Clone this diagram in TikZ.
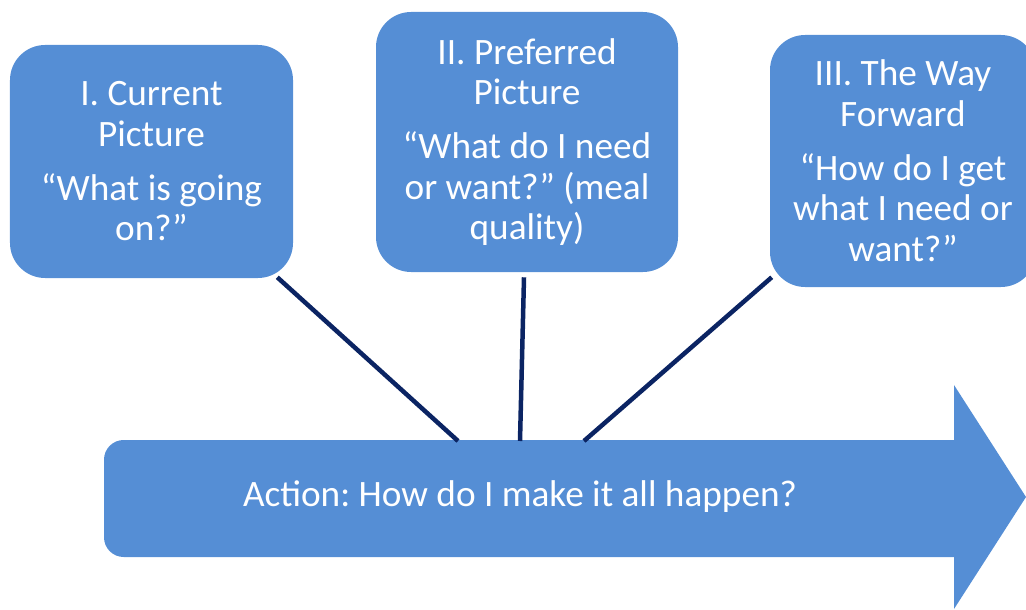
\documentclass[tikz,border=0pt]{standalone}
\usepackage{fontspec}
\setmainfont{Carlito}
\usepackage{xcolor}
\usetikzlibrary{calc}
\frenchspacing

\definecolor{boxblue}{RGB}{85,142,213}
\definecolor{navy}{RGB}{11,36,99}

\tikzset{
  stage/.style={fill=boxblue, rounded corners=25pt, inner sep=0pt, text=white,
    align=center, font=\fontsize{26.5}{29}\selectfont},
  link/.style={navy, line width=3.2pt}
}

\begin{document}
\begin{tikzpicture}[x=0.25mm,y=-0.25mm]
\useasboundingbox (0,0) rectangle (1026,610);
\clip (0,0) rectangle (1026,610);

% big arrow along the bottom
\fill[boxblue] (954,440) -- (954,385) -- (1026,497) -- (954,609) -- (954,557)
  [rounded corners=14pt] -- (104,557) -- (104,440) [sharp corners] -- cycle;
\node[text=white, font=\fontsize{26.5}{29}\selectfont] (act) at (520,497)
  {Action: How do I make it all happen?};

\node[stage, minimum width=70.75mm, minimum height=58.25mm] (cur) at (151.5,161.5)
  {I. Current\\Picture\\[9pt]“What is going\\on?”};
\node[stage, minimum width=75.5mm, minimum height=65mm] (prf) at (527,142)
  {II. Preferred\\Picture\\[9pt]“What do I need\\or want?” (meal\\quality)};
\node[stage, minimum width=66.5mm, minimum height=63mm] (way) at (903,161)
  {III. The Way\\Forward\\[9pt]“How do I get\\what I need or\\want?”};

\coordinate (d1) at (458,441);
\coordinate (d2) at (520,441);
\coordinate (d3) at (584,441);

\draw[link] ($(cur.south east)+(-16,-1)$) -- (d1);
\draw[link] ($(prf.south)+(-3,5)$) -- (d2);
\draw[link] ($(way.south west)+(2,-10)$) -- (d3);

\end{tikzpicture}
\end{document}
